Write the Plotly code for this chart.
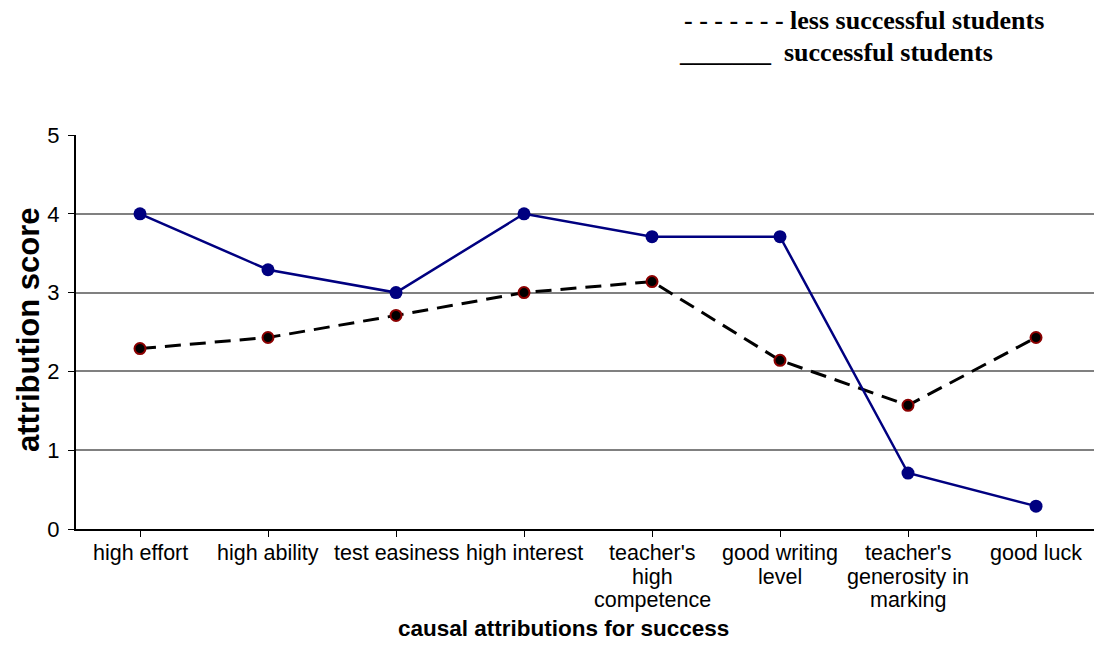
import plotly.graph_objects as go

categories = [
    "high effort", "high ability", "test easiness", "high interest",
    "teacher's<br>high<br>competence", "good writing<br>level",
    "teacher's<br>generosity in<br>marking", "good luck",
]
successful = [4.0, 3.29, 3.0, 4.0, 3.71, 3.71, 0.71, 0.29]
less_successful = [2.29, 2.43, 2.71, 3.0, 3.14, 2.14, 1.57, 2.43]
y_ticks = [0, 1, 2, 3, 4, 5]

W, H = 1094, 663
L, R, T, B = 76, 0, 135, 134
pw = W - L - R
ph = H - T - B


def px(x):
    return (x - L) / pw


def py(y):
    return 1 - (y - T) / ph


x_idx = list(range(len(categories)))

fig = go.Figure()
fig.add_trace(go.Scatter(
    x=x_idx, y=less_successful, mode="lines+markers",
    line=dict(color="black", width=3, dash="16px,9px"),
    marker=dict(size=11, color="black", line=dict(color="#8B0000", width=2)),
    name="less successful students",
))
fig.add_trace(go.Scatter(
    x=x_idx, y=successful, mode="lines+markers",
    line=dict(color="#000080", width=2.5),
    marker=dict(size=13, color="#000080"),
    name="successful students",
))

fig.update_layout(
    width=W, height=H,
    margin=dict(l=L, r=R, t=T, b=B),
    paper_bgcolor="white", plot_bgcolor="white",
    showlegend=False,
    font=dict(family="Liberation Sans, Arial", size=21, color="black"),
)
fig.update_xaxes(
    range=[-0.5, 7.453], tickmode="array", tickvals=x_idx,
    showticklabels=False,
    ticks="outside", ticklen=6, tickcolor="black", tickson="boundaries",
    showline=True, linecolor="black", linewidth=2,
    showgrid=False, zeroline=False,
)
fig.update_yaxes(
    range=[0, 5], tickmode="array", tickvals=y_ticks,
    ticks="outside", ticklen=6, tickcolor="black",
    showline=True, linecolor="black", linewidth=2,
    showgrid=True, gridcolor="#808080", gridwidth=2, zeroline=False,
    tickfont=dict(size=22), ticklabelstandoff=4,
)

# category labels, one annotation per text line for tight line spacing
tick_font = dict(family="Liberation Sans, Arial", size=21.5, color="black")
for i, label in enumerate(categories):
    for j, part in enumerate(label.split("<br>")):
        fig.add_annotation(
            text=part, x=i, xref="x", y=py(553 + 23.5 * j), yref="paper",
            xanchor="center", yanchor="middle", showarrow=False, font=tick_font,
        )

ann_font = dict(family="Liberation Serif, Times New Roman", size=26, color="black")
fig.add_annotation(
    text="<b>- - - - - - - less successful students</b>",
    x=px(1046), y=py(20), xref="paper", yref="paper",
    xanchor="right", yanchor="middle", showarrow=False, font=ann_font,
)
fig.add_annotation(
    text="<b>_______  successful students</b>",
    x=px(677), y=py(52), xref="paper", yref="paper",
    xanchor="left", yanchor="middle", showarrow=False, font=ann_font,
)
fig.add_annotation(
    text="<b>attribution score</b>",
    x=px(28), y=py(330), xref="paper", yref="paper",
    xanchor="center", yanchor="middle", textangle=-90, showarrow=False,
    font=dict(family="Liberation Sans, Arial", size=31, color="black"),
)
fig.add_annotation(
    text="<b>causal attributions for success</b>",
    x=px(563), y=py(628), xref="paper", yref="paper",
    xanchor="center", yanchor="middle", showarrow=False,
    font=dict(family="Liberation Sans, Arial", size=22.5, color="black"),
)

fig.write_html("out.html")
